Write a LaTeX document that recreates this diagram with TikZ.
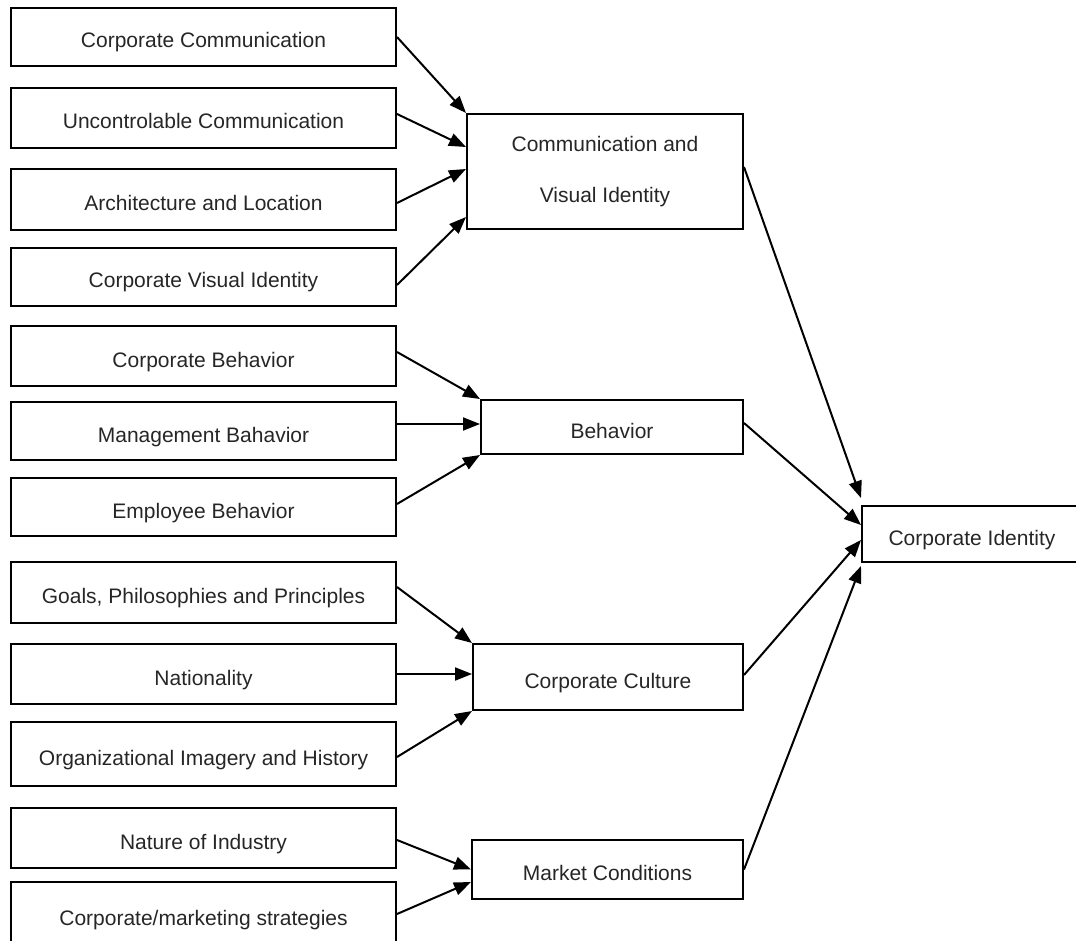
\documentclass[tikz,border=0pt]{standalone}
\usepackage{fontspec}
\setmainfont{Liberation Sans}
\usetikzlibrary{arrows.meta}
\begin{document}
\begin{tikzpicture}[x=1pt,y=-1pt,
  box/.style={draw=black,line width=2pt,rectangle,inner sep=0pt,text=black!85,
    font=\fontsize{21}{24}\selectfont,align=center},
  sbox/.style={box,text height=22pt,text depth=0pt},
  lbox/.style={sbox,minimum width=385pt},
  arr/.style={line width=2pt,-{Triangle[length=17pt,width=13pt]}}]
\useasboundingbox (0,0) rectangle (1076,941);
\clip (0,0) rectangle (1076,941);
% left column
\node[lbox,minimum height=58pt] (n1) at (203.5,37) {Corporate Communication};
\node[lbox,minimum height=60pt] (n2) at (203.5,118) {Uncontrolable Communication};
\node[lbox,minimum height=61pt] (n3) at (203.5,199.5) {Architecture and Location};
\node[lbox,minimum height=58pt] (n4) at (203.5,277) {Corporate Visual Identity};
\node[lbox,minimum height=60pt] (n5) at (203.5,356) {Corporate Behavior};
\node[lbox,minimum height=58pt] (n6) at (203.5,431) {Management Bahavior};
\node[lbox,minimum height=58pt] (n7) at (203.5,507) {Employee Behavior};
\node[lbox,minimum height=61pt] (n8) at (203.5,592.5) {Goals, Philosophies and Principles};
\node[lbox,minimum height=60pt] (n9) at (203.5,674) {Nationality};
\node[lbox,minimum height=64pt] (n10) at (203.5,754) {Organizational Imagery and History};
\node[lbox,minimum height=60pt] (n11) at (203.5,838) {Nature of Industry};
\node[lbox,minimum height=64pt] (n12) at (203.5,914) {Corporate/marketing strategies};
% middle column
\node[box,minimum width=276pt,minimum height=115pt] (cvi) at (605,171.5) {\raisebox{-2pt}{Communication and}\\[27pt]\raisebox{-2pt}{Visual Identity}};
\node[sbox,minimum width=262pt,minimum height=54pt] (beh) at (612,427) {Behavior};
\node[sbox,minimum width=270pt,minimum height=66pt] (cul) at (608,677) {Corporate Culture};
\node[sbox,minimum width=271pt,minimum height=59pt] (mkt) at (607.5,869.5) {Market Conditions};
% right
\node[sbox,minimum width=220pt,minimum height=56pt] (ci) at (972,534) {Corporate Identity};
% arrows into Communication and Visual Identity
\draw[arr] (n1.east) -- (cvi.north west);
\draw[arr] ([yshift=4pt]n2.east) -- ([yshift=24.5pt]cvi.west);
\draw[arr] ([yshift=-3.5pt]n3.east) -- ([yshift=2.5pt]cvi.west);
\draw[arr] ([yshift=-8pt]n4.east) -- ([yshift=-45.5pt]cvi.west);
% arrows into Behavior
\draw[arr] ([yshift=4pt]n5.east) -- (beh.north west);
\draw[arr] ([yshift=7pt]n6.east) -- ([yshift=3pt]beh.west);
\draw[arr] ([yshift=3pt]n7.east) -- (beh.south west);
% arrows into Corporate Culture
\draw[arr] ([yshift=5.5pt]n8.east) -- (cul.north west);
\draw[arr] (n9.east) -- ([yshift=3pt]cul.west);
\draw[arr] ([yshift=-3pt]n10.east) -- (cul.south west);
% arrows into Market Conditions
\draw[arr] ([yshift=-2pt]n11.east) -- (mkt.west);
\draw[arr] (n12.east) -- ([yshift=-12.5pt]mkt.west);
% arrows into Corporate Identity
\draw[arr] ([yshift=4.5pt]cvi.east) -- ([yshift=36pt]ci.west);
\draw[arr] ([yshift=4pt]beh.east) -- ([yshift=9pt]ci.west);
\draw[arr] ([yshift=2pt]cul.east) -- ([yshift=-6pt]ci.west);
\draw[arr] (mkt.east) -- ([yshift=-32pt]ci.west);
\end{tikzpicture}
\end{document}
